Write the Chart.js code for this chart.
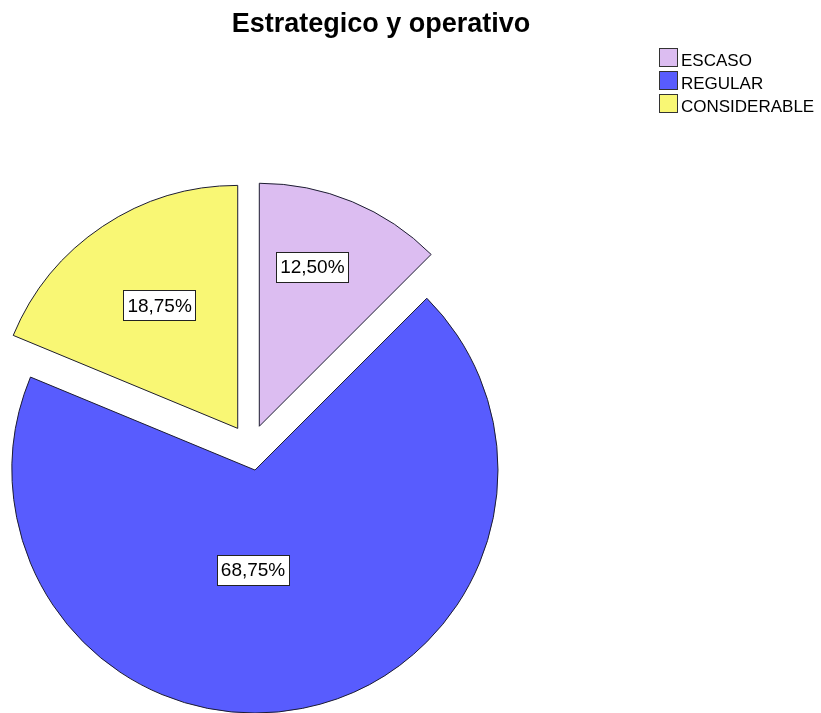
<!DOCTYPE html>
<html>
<head>
<meta charset="utf-8">
<script src="https://cdn.jsdelivr.net/npm/chart.js@4.4.1/dist/chart.umd.min.js"></script>
<style>
  html, body { margin: 0; padding: 0; background: #fff; overflow: hidden; }
  #grafico { display: block; }
</style>
</head>
<body>
<canvas id="grafico" width="821" height="713"></canvas>
<script>
const titulo = "Estrategico y operativo";
const categorias = ["ESCASO", "REGULAR", "CONSIDERABLE"];
const porcentajes = [12.5, 68.75, 18.75];
const colores = ["#dcbdf1", "#585cfe", "#f9f774"];

// separacion de los sectores (pie explotado) y posicion de las etiquetas
// [fraccion del angulo del sector, fraccion del radio]
const separacion = 23;
const posEtiqueta = [[0.41, 0.69], [0.55, 0.41], [0.52, 0.60]];

const fuente = "'Liberation Sans', Arial, sans-serif";

function formato(v) {
  return v.toFixed(2).replace(".", ",") + "%";
}

const explotar = {
  id: "explotar",
  beforeDatasetDraw(chart, args) {
    const ctx = chart.ctx;
    args.meta.data.forEach(arc => {
      const mid = (arc.startAngle + arc.endAngle) / 2;
      ctx.save();
      ctx.translate(Math.cos(mid) * separacion, Math.sin(mid) * separacion);
      arc.draw(ctx);
      ctx.restore();
    });
    return false;
  }
};

const textos = {
  id: "textos",
  afterDraw(chart) {
    const ctx = chart.ctx;
    ctx.save();

    // titulo
    ctx.fillStyle = "#000";
    ctx.font = "bold 27px " + fuente;
    ctx.textAlign = "center";
    ctx.textBaseline = "alphabetic";
    ctx.fillText(titulo, 381, 32);

    // etiquetas de porcentaje
    ctx.font = "19px " + fuente;
    ctx.textBaseline = "middle";
    chart.getDatasetMeta(0).data.forEach((arc, i) => {
      const mid = (arc.startAngle + arc.endAngle) / 2;
      const a = arc.startAngle + posEtiqueta[i][0] * (arc.endAngle - arc.startAngle);
      const r = arc.outerRadius * posEtiqueta[i][1];
      const x = arc.x + Math.cos(a) * r + Math.cos(mid) * separacion;
      const y = arc.y + Math.sin(a) * r + Math.sin(mid) * separacion;
      const txt = formato(porcentajes[i]);
      const w = ctx.measureText(txt).width + 8;
      const h = 30;
      ctx.fillStyle = "#fff";
      ctx.fillRect(Math.round(x - w / 2) + 0.5, Math.round(y - h / 2) + 0.5, Math.round(w), h);
      ctx.strokeStyle = "#222";
      ctx.lineWidth = 1;
      ctx.strokeRect(Math.round(x - w / 2) + 0.5, Math.round(y - h / 2) + 0.5, Math.round(w), h);
      ctx.fillStyle = "#000";
      ctx.fillText(txt, x, y + 1);
    });

    // leyenda
    ctx.font = "17px " + fuente;
    ctx.textAlign = "left";
    ctx.textBaseline = "alphabetic";
    categorias.forEach((c, i) => {
      const y0 = 48 + i * 23;
      ctx.fillStyle = colores[i];
      ctx.fillRect(659.5, y0 + 0.5, 18, 18);
      ctx.strokeStyle = "#333";
      ctx.strokeRect(659.5, y0 + 0.5, 18, 18);
      ctx.fillStyle = "#000";
      ctx.fillText(c, 681, y0 + 18);
    });

    ctx.restore();
  }
};

new Chart(document.getElementById("grafico"), {
  type: "pie",
  data: {
    labels: categorias,
    datasets: [{
      data: porcentajes,
      backgroundColor: colores,
      borderColor: "#1c1c30",
      borderWidth: 1
    }]
  },
  options: {
    responsive: false,
    animation: false,
    radius: 243,
    layout: { padding: { left: 0, right: 320, top: 182, bottom: 0 } },
    plugins: {
      legend: { display: false },
      tooltip: { enabled: false },
      title: { display: false }
    }
  },
  plugins: [explotar, textos]
});
</script>
</body>
</html>
